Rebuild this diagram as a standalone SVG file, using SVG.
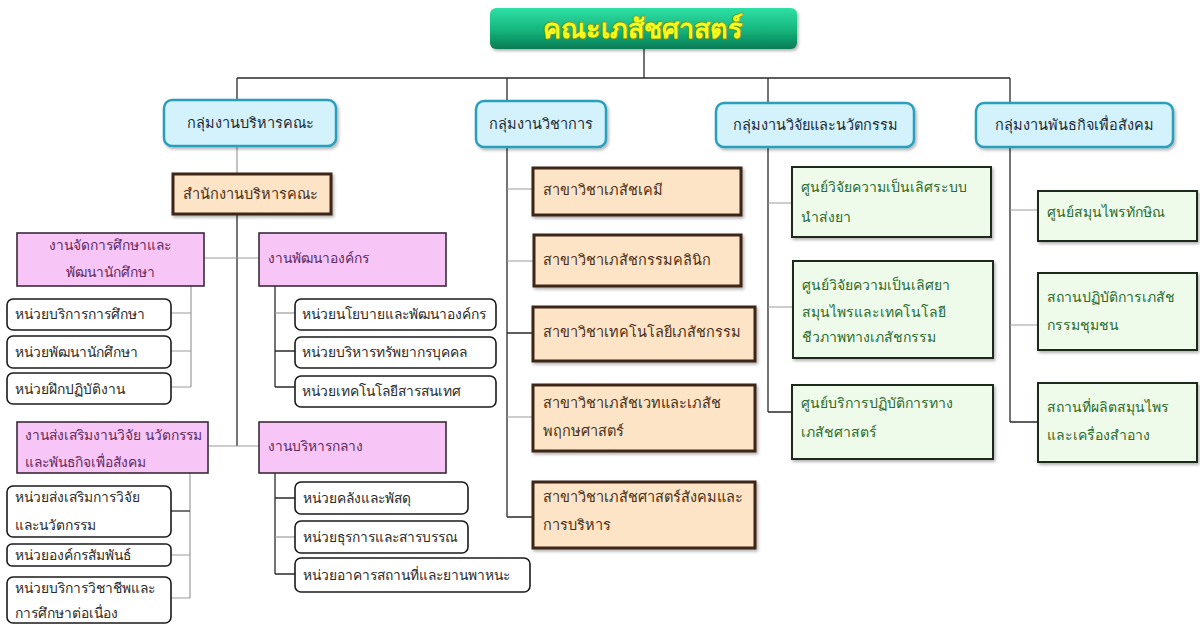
<svg xmlns="http://www.w3.org/2000/svg" width="1200" height="626" viewBox="0 0 1200 626">
  <defs>
    <linearGradient id="titleGrad" x1="0" y1="0" x2="0" y2="1">
      <stop offset="0" stop-color="#2fe0a6"/>
      <stop offset="0.55" stop-color="#14b47c"/>
      <stop offset="1" stop-color="#0a7c55"/>
    </linearGradient>
    <filter id="soft" x="-10%" y="-20%" width="125%" height="150%">
      <feDropShadow dx="1.5" dy="2" stdDeviation="1.5" flood-color="#000" flood-opacity="0.3"/>
    </filter>
  </defs>
  <style>
    text { font-family: "Noto Sans", "DejaVu Sans", sans-serif; }
    .title { font-size: 27px; font-weight: bold; fill: #f6fb1e; stroke: #7f8f0e; stroke-width: 1.4; paint-order: stroke; text-anchor: middle; }
    .grp rect { fill: #d3f2fb; stroke: #2a9fbc; stroke-width: 2.5; }
    .grp text { font-size: 14.5px; fill: #1d2b36; text-anchor: middle; }
    .tan rect { fill: #fde4c6; stroke: #3d2516; stroke-width: 3; }
    .tan text { font-size: 14.5px; fill: #4a3018; }
    .pink rect { fill: #f8c6f6; stroke: #3a2a3a; stroke-width: 1.6; }
    .pink text { font-size: 13.8px; fill: #5e2a62; }
    .unit rect { fill: #ffffff; stroke: #1a1a1a; stroke-width: 1.6; }
    .unit text { font-size: 13.8px; fill: #2a2a2a; }
    .grn rect { fill: #eefbea; stroke: #1c2a1c; stroke-width: 2; }
    .grn text { font-size: 14px; fill: #2c6a2c; }
    .c { stroke: #2a2a2a; stroke-width: 1.3; fill: none; }
    .cl { stroke: #9c9c9c; stroke-width: 1.2; fill: none; }
  </style>

  <!-- connectors -->
  <g id="connectors">
    <path class="c" d="M644 49V78M237 78H1010M237 78V100M507 78V101M768 78V103M1010 78V103"/>
    <!-- administration branch -->
    <path class="cl" d="M237 146V173"/>
    <path class="c" d="M237 214V446"/>
    <path class="cl" d="M204 258H259M208 446H259"/>
    <path class="cl" d="M191 286V387M171 313H191M171 351H191M171 387H191"/>
    <path class="c" d="M275 286V387M275 351H295M275 387H295"/>
    <path class="cl" d="M275 313H295"/>
    <path class="cl" d="M190 473V598M171 555H190M171 598H190"/>
    <path class="c" d="M171 511H190"/>
    <path class="c" d="M275 473V574M275 498H295M275 574H295"/>
    <path class="cl" d="M275 537H295"/>
    <!-- academic branch -->
    <path class="c" d="M507 147V517M507 517H533M507 333H533"/>
    <path class="cl" d="M507 189H533M507 261H533M507 417H533"/>
    <!-- research branch -->
    <path class="c" d="M768 146V412M768 412H792"/>
    <path class="cl" d="M768 203H792M768 307H793"/>
    <!-- social engagement branch -->
    <path class="c" d="M1010 146V422M1010 422H1038"/>
    <path class="cl" d="M1010 210H1038M1010 325H1038"/>
  </g>

  <!-- faculty -->
  <g id="faculty">
    <rect x="490" y="8" width="307" height="41" rx="6" fill="url(#titleGrad)" filter="url(#soft)"/>
    <text class="title" x="643" y="38">คณะเภสัชศาสตร์</text>
  </g>

  <!-- main groups -->
  <g id="grp-admin" class="grp">
    <rect x="164" y="100" width="172" height="46" rx="8" filter="url(#soft)"/>
    <text x="250" y="128">กลุ่มงานบริหารคณะ</text>
  </g>
  <g id="grp-academic" class="grp">
    <rect x="476" y="101" width="130" height="46" rx="8" filter="url(#soft)"/>
    <text x="541" y="129">กลุ่มงานวิชาการ</text>
  </g>
  <g id="grp-research" class="grp">
    <rect x="716" y="103" width="198" height="44" rx="8" filter="url(#soft)"/>
    <text x="815" y="130">กลุ่มงานวิจัยและนวัตกรรม</text>
  </g>
  <g id="grp-social" class="grp">
    <rect x="976" y="103" width="197" height="44" rx="8" filter="url(#soft)"/>
    <text x="1074" y="130">กลุ่มงานพันธกิจเพื่อสังคม</text>
  </g>

  <!-- faculty office -->
  <g id="office" class="tan">
    <rect x="173" y="174" width="158" height="40" filter="url(#soft)"/>
    <text x="183" y="199">สำนักงานบริหารคณะ</text>
  </g>

  <!-- administration sections -->
  <g id="sec-student" class="pink">
    <rect x="17" y="233" width="187" height="53"/>
    <text x="110" y="250" text-anchor="middle">งานจัดการศึกษาและ</text>
    <text x="110" y="277" text-anchor="middle">พัฒนานักศึกษา</text>
  </g>
  <g id="sec-org" class="pink">
    <rect x="259" y="233" width="187" height="53"/>
    <text x="268" y="263">งานพัฒนาองค์กร</text>
  </g>
  <g id="sec-research" class="pink">
    <rect x="17" y="422" width="191" height="51"/>
    <text x="25" y="440">งานส่งเสริมงานวิจัย นวัตกรรม</text>
    <text x="25" y="467">และพันธกิจเพื่อสังคม</text>
  </g>
  <g id="sec-central" class="pink">
    <rect x="259" y="422" width="187" height="51"/>
    <text x="268" y="451">งานบริหารกลาง</text>
  </g>

  <!-- units -->
  <g id="u-edu" class="unit">
    <rect x="7" y="299" width="164" height="31" rx="6"/>
    <text x="15" y="319">หน่วยบริการการศึกษา</text>
  </g>
  <g id="u-student" class="unit">
    <rect x="7" y="336" width="164" height="32" rx="6"/>
    <text x="15" y="357">หน่วยพัฒนานักศึกษา</text>
  </g>
  <g id="u-practice" class="unit">
    <rect x="7" y="373" width="164" height="31" rx="6"/>
    <text x="15" y="394">หน่วยฝึกปฏิบัติงาน</text>
  </g>
  <g id="u-policy" class="unit">
    <rect x="295" y="299" width="201" height="31" rx="6"/>
    <text x="302" y="319">หน่วยนโยบายและพัฒนาองค์กร</text>
  </g>
  <g id="u-hr" class="unit">
    <rect x="295" y="337" width="201" height="31" rx="6"/>
    <text x="302" y="357">หน่วยบริหารทรัพยากรบุคคล</text>
  </g>
  <g id="u-it" class="unit">
    <rect x="295" y="376" width="201" height="31" rx="6"/>
    <text x="302" y="396">หน่วยเทคโนโลยีสารสนเทศ</text>
  </g>
  <g id="u-research" class="unit">
    <rect x="7" y="486" width="164" height="51" rx="6"/>
    <text x="15" y="502">หน่วยส่งเสริมการวิจัย</text>
    <text x="15" y="530">และนวัตกรรม</text>
  </g>
  <g id="u-relations" class="unit">
    <rect x="7" y="544" width="164" height="22" rx="5"/>
    <text x="15" y="560">หน่วยองค์กรสัมพันธ์</text>
  </g>
  <g id="u-service" class="unit">
    <rect x="7" y="577" width="164" height="46" rx="6"/>
    <text x="15" y="593">หน่วยบริการวิชาชีพและ</text>
    <text x="15" y="618">การศึกษาต่อเนื่อง</text>
  </g>
  <g id="u-finance" class="unit">
    <rect x="295" y="482" width="173" height="32" rx="6"/>
    <text x="303" y="503">หน่วยคลังและพัสดุ</text>
  </g>
  <g id="u-admin" class="unit">
    <rect x="295" y="521" width="173" height="32" rx="6"/>
    <text x="303" y="542">หน่วยธุรการและสารบรรณ</text>
  </g>
  <g id="u-facility" class="unit">
    <rect x="295" y="558" width="235" height="34" rx="6"/>
    <text x="303" y="580">หน่วยอาคารสถานที่และยานพาหนะ</text>
  </g>

  <!-- academic departments -->
  <g id="d-chem" class="tan">
    <rect x="533" y="168" width="208" height="47" filter="url(#soft)"/>
    <text x="543" y="195">สาขาวิชาเภสัชเคมี</text>
  </g>
  <g id="d-clinic" class="tan">
    <rect x="534" y="235" width="207" height="51" filter="url(#soft)"/>
    <text x="543" y="265">สาขาวิชาเภสัชกรรมคลินิก</text>
  </g>
  <g id="d-tech" class="tan">
    <rect x="533" y="307" width="222" height="54" filter="url(#soft)"/>
    <text x="543" y="337">สาขาวิชาเทคโนโลยีเภสัชกรรม</text>
  </g>
  <g id="d-pharmacog" class="tan">
    <rect x="533" y="385" width="222" height="66" filter="url(#soft)"/>
    <text x="543" y="408">สาขาวิชาเภสัชเวทและเภสัช</text>
    <text x="543" y="436">พฤกษศาสตร์</text>
  </g>
  <g id="d-social" class="tan">
    <rect x="533" y="482" width="222" height="66" filter="url(#soft)"/>
    <text x="543" y="502">สาขาวิชาเภสัชศาสตร์สังคมและ</text>
    <text x="543" y="530">การบริหาร</text>
  </g>

  <!-- research centres -->
  <g id="r-delivery" class="grn">
    <rect x="792" y="167" width="199" height="70" filter="url(#soft)"/>
    <text x="801" y="192">ศูนย์วิจัยความเป็นเลิศระบบ</text>
    <text x="801" y="222">นำส่งยา</text>
  </g>
  <g id="r-herbal" class="grn">
    <rect x="793" y="261" width="200" height="97" filter="url(#soft)"/>
    <text x="802" y="290">ศูนย์วิจัยความเป็นเลิศยา</text>
    <text x="802" y="317">สมุนไพรและเทคโนโลยี</text>
    <text x="802" y="342">ชีวภาพทางเภสัชกรรม</text>
  </g>
  <g id="r-lab" class="grn">
    <rect x="792" y="385" width="201" height="74" filter="url(#soft)"/>
    <text x="801" y="408">ศูนย์บริการปฏิบัติการทาง</text>
    <text x="801" y="437">เภสัชศาสตร์</text>
  </g>

  <!-- social engagement units -->
  <g id="s-herb" class="grn">
    <rect x="1038" y="191" width="159" height="50" filter="url(#soft)"/>
    <text x="1047" y="217">ศูนย์สมุนไพรทักษิณ</text>
  </g>
  <g id="s-pharmacy" class="grn">
    <rect x="1038" y="273" width="159" height="77" filter="url(#soft)"/>
    <text x="1047" y="302">สถานปฏิบัติการเภสัช</text>
    <text x="1047" y="330">กรรมชุมชน</text>
  </g>
  <g id="s-production" class="grn">
    <rect x="1038" y="383" width="159" height="79" filter="url(#soft)"/>
    <text x="1047" y="412">สถานที่ผลิตสมุนไพร</text>
    <text x="1047" y="440">และเครื่องสำอาง</text>
  </g>
</svg>
